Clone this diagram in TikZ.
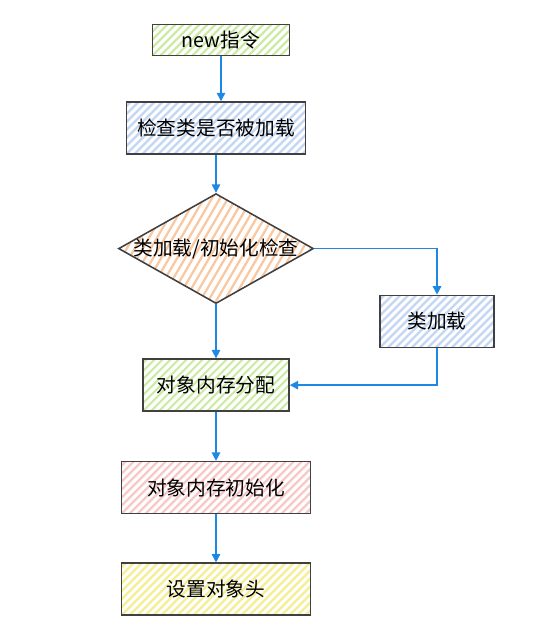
\documentclass[tikz,border=0pt]{standalone}
\usepackage{fontspec}
\setmainfont{Noto Sans CJK SC}
\usetikzlibrary{positioning, calc, shapes.geometric, arrows.meta}

\definecolor{flowblue}{RGB}{30,136,229}
\definecolor{hatchgreen}{RGB}{205,235,165}
\definecolor{hatchblue}{RGB}{195,215,245}
\definecolor{hatchorange}{RGB}{250,200,160}
\definecolor{hatchred}{RGB}{248,200,200}
\definecolor{hatchyellow}{RGB}{245,238,150}

\tikzset{
        hatched/.style 2 args={path picture={
                \foreach \k in {-25,...,25} {
                        \draw[#1, line width=1.6pt] ($(path picture bounding box.south west)+(\k*0.2,0)$) -- ++(#2);
                }}},
}

\begin{document}
\begin{tikzpicture}[node distance=1.2cm,
        every node/.style={font=\fontsize{14}{16}\selectfont},
        stepbox/.style={rectangle, draw=black!75, line width=1.1pt, minimum height=1.3cm},
        flow/.style={draw=flowblue, line width=1pt, -{Triangle[length=6pt, width=6pt]}}]
                \useasboundingbox (-5.525,1.0) rectangle (8.0,-14.8);

                \node[stepbox, hatched={hatchgreen}{6,6}, minimum width=3.425cm, minimum height=0.775cm] (new) {new指令};
                \node[stepbox, hatched={hatchblue}{6,6}, minimum width=4.475cm, below=1.125cm of new, xshift=-0.125cm] (check) {检查类是否被加载};
                \node[diamond, draw=black!75, line width=1.1pt, inner sep=0pt, minimum width=4.875cm, minimum height=2.75cm,
                        hatched={hatchorange}{3.5,6}, below=0.95cm of check] (chk) {};
                \node at (chk.center) (chktext) {类加载/初始化检查};
                \node[stepbox, hatched={hatchblue}{6,6}, minimum width=2.85cm, below right=1.15cm and 1.625cm of chk.east, anchor=north west] (load) {类加载};
                \node[stepbox, hatched={hatchgreen}{6,6}, minimum width=3.65cm, below=1.35cm of chk] (alloc) {对象内存分配};
                \node[stepbox, hatched={hatchred}{6,6}, minimum width=4.725cm, below=1.225cm of alloc] (init) {对象内存初始化};
                \node[stepbox, hatched={hatchyellow}{6,6}, minimum width=4.725cm, below=1.2cm of init] (head) {设置对象头};

                % main flow
                \draw[flow] (new.south -| new.center) -- (new.center |- check.north);
                \draw[flow] (check) -- (chk);
                \draw[flow] (chk) -- (alloc);
                \draw[flow] (alloc) -- (init);
                \draw[flow] (init) -- (head);

                % side branch for class loading
                \draw[flow] (chk.east) -| (load.north);
                \draw[flow] (load.south) |- (alloc.east);
        \end{tikzpicture}
\end{document}
